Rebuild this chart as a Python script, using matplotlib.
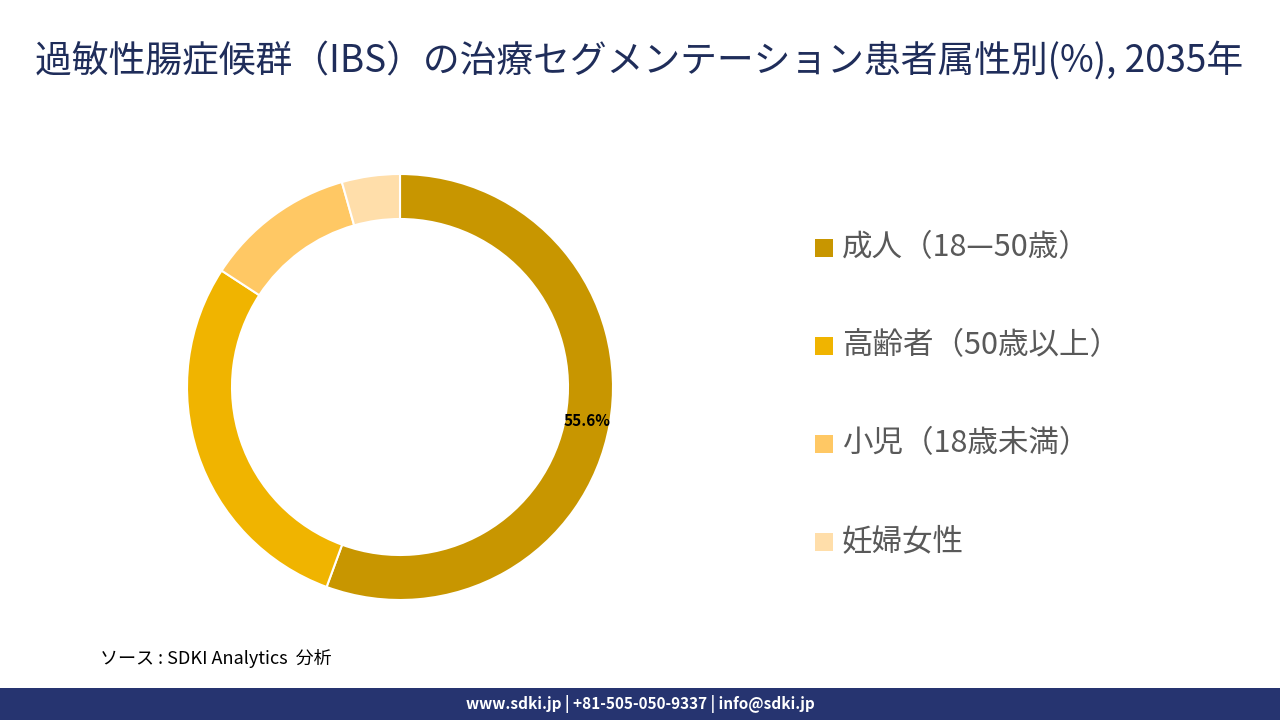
import matplotlib.pyplot as plt
from matplotlib.patches import Rectangle

plt.rcParams["font.family"] = ["Noto Sans CJK JP", "DejaVu Sans"]

# data
labels = ["成人（18—50歳）", "高齢者（50歳以上）", "小児（18歳未満）", "妊婦女性"]
shares = [55.6, 28.6, 11.4, 4.4]
colors = ["#C89600", "#F0B400", "#FFC864", "#FFDEAA"]

fig = plt.figure(figsize=(12.8, 7.2), dpi=100)
fig.patch.set_facecolor("white")

# title
fig.text(0.027, 0.915, "過敏性腸症候群（IBS）の治療セグメンテーション患者属性別(%), 2035年",
         fontsize=26.5, color="#1F2D5A", va="center", ha="left")

# donut
ax = fig.add_axes([400/1280 - 213/1280, 1 - (387 + 213)/720, 426/1280, 426/720])
wedges, _ = ax.pie(shares, colors=colors, startangle=90, counterclock=False,
                   wedgeprops=dict(width=45/213, edgecolor="white", linewidth=1.5))
ax.set_xlim(-1, 1)
ax.set_ylim(-1, 1)
ax.set_aspect("equal")
ax.text(0.88, -0.16, f"{shares[0]}%", fontsize=11, fontweight="bold",
        ha="center", va="center", color="black")

# legend
for i, (lab, c) in enumerate(zip(labels, colors)):
    y = 1 - (248 + i * 98) / 720
    fig.patches.append(Rectangle((815/1280, y - 9/720), 18/1280, 18/720,
                                 transform=fig.transFigure, facecolor=c, edgecolor="none"))
    fig.text(842/1280, y, lab, fontsize=22, color="#595959", va="center", ha="left")

# source
fig.text(100/1280, 1 - 658/720, "ソース : SDKI Analytics  分析", fontsize=13,
         style="italic", va="center", ha="left", color="black")

# footer bar
fig.patches.append(Rectangle((0, 0), 1, 32/720, transform=fig.transFigure,
                             facecolor="#263470", edgecolor="none"))
fig.text(0.5, 16/720, "www.sdki.jp | +81-505-050-9337 | info@sdki.jp", fontsize=11,
         fontweight="bold", color="white", ha="center", va="center")

fig.savefig("out.png", dpi=100)
